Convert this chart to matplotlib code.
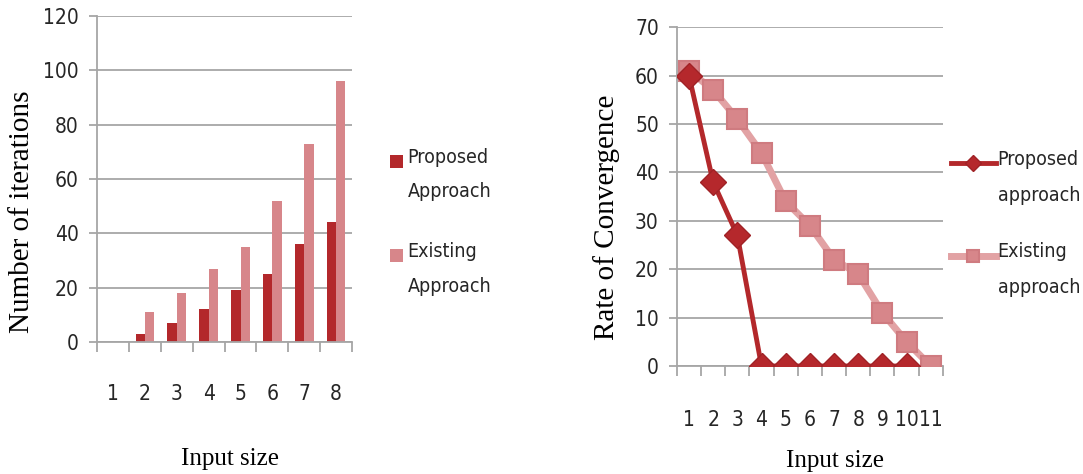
import numpy as np
import matplotlib.pyplot as plt
from matplotlib.ticker import FixedLocator

# data
bar_sizes = ["1", "2", "3", "4", "5", "6", "7", "8"]
iter_proposed = [0, 3, 7, 12, 19, 25, 36, 44]
iter_existing = [0, 11, 18, 27, 35, 52, 73, 96]

line_sizes = ["1", "2", "3", "4", "5", "6", "7", "8", "9", "10", "11"]
conv_proposed = [60, 38, 27, 0, 0, 0, 0, 0, 0, 0]
conv_existing = [61, 57, 51, 44, 34, 29, 22, 19, 11, 5, 0]

dark_red = "#b3282b"
pink = "#d7868a"
grid_c = "#a6a6a6"
sans = ["DejaVu Sans"]
serif = ["Liberation Serif", "DejaVu Serif"]
tick_font = {"family": sans, "size": 15, "stretch": "condensed"}
leg_font = {"family": sans, "size": 14, "stretch": "condensed"}

fig = plt.figure(figsize=(10.83, 4.74), dpi=100)


def style_axes(ax, n, ymax, ystep):
    ax.set_xlim(-0.5, n - 0.5)
    ax.set_ylim(0, ymax)
    ax.set_yticks(np.arange(0, ymax + 1, ystep))
    ax.yaxis.grid(True, color=grid_c, lw=1.3)
    ax.set_axisbelow(True)
    for s in ["top", "right"]:
        ax.spines[s].set_visible(False)
    for s in ["left", "bottom"]:
        ax.spines[s].set_color(grid_c)
        ax.spines[s].set_linewidth(1.3)
    # category boundaries get the tick marks, labels sit in the middle
    ax.xaxis.set_minor_locator(FixedLocator(np.arange(-0.5, n, 1.0)))
    ax.tick_params(axis="x", which="minor", length=7, width=1.3, color=grid_c)
    ax.tick_params(axis="x", which="major", length=0, pad=30)
    ax.tick_params(axis="y", length=6, width=1.3, color=grid_c, pad=7)
    for lab in ax.get_xticklabels() + ax.get_yticklabels():
        lab.set_fontproperties(tick_font)
        lab.set_color("#262626")


def lift_handles(leg):
    # put each legend handle level with the first line of its label
    fig.canvas.draw()
    r = fig.canvas.get_renderer()
    for h, t in zip(leg.legend_handles, leg.get_texts()):
        tb = t.get_window_extent(r)
        hb = h.get_window_extent(r)
        first_line = tb.y1 - tb.height / 4
        d = (first_line - (hb.y0 + hb.y1) / 2) * 72 / fig.dpi
        if hasattr(h, "set_ydata"):
            h.set_ydata(np.asarray(h.get_ydata()) + d)
        else:
            h.set_y(h.get_y() + d)


# left: bars
ax1 = fig.add_axes([0.0896, 0.2785, 0.2355, 0.6877])
x = np.arange(len(bar_sizes))
w = 0.29
ax1.bar(x - w / 2, iter_proposed, w, color=dark_red, label="Proposed\nApproach")
ax1.bar(x + w / 2, iter_existing, w, color=pink, label="Existing\nApproach")
ax1.set_xticks(x, bar_sizes)
style_axes(ax1, len(bar_sizes), 120, 20)
ax1.set_ylabel("Number of iterations", fontfamily=serif, fontsize=21, labelpad=6)
ax1.yaxis.label.set_y(0.4)
ax1.set_xlabel("Input size", fontfamily=serif, fontsize=18, labelpad=32)
ax1.xaxis.label.set_x(0.52)
leg1 = ax1.legend(loc="upper left", bbox_to_anchor=(1.08, 0.65), frameon=False,
                  prop=leg_font, handlelength=0.65, handleheight=0.65,
                  handletextpad=0.25, labelspacing=2.1)
for t in leg1.get_texts():
    t.set_linespacing(2.05)
    t.set_color("#262626")

# right: lines
ax2 = fig.add_axes([0.625, 0.2278, 0.2456, 0.715])
x2 = np.arange(len(line_sizes))
ax2.plot(x2, conv_existing, color="#e2a2a4", lw=5, marker="s", ms=14,
         mfc=pink, mec="#cf7b80", mew=1.5, label="Existing\napproach", zorder=3)
ax2.plot(x2[:len(conv_proposed)], conv_proposed, color=dark_red, lw=3.5,
         marker="D", ms=13, mfc="#b5282c", mec="#a02226", label="Proposed\napproach",
         zorder=4)
ax2.set_xticks(x2, line_sizes)
style_axes(ax2, len(line_sizes), 70, 10)
ax2.tick_params(axis="x", which="major", pad=32)
ax2.set_ylabel("Rate of Convergence", fontfamily=serif, fontsize=21, labelpad=11)
ax2.yaxis.label.set_y(0.44)
ax2.set_xlabel("Input size", fontfamily=serif, fontsize=18, labelpad=14)
ax2.xaxis.label.set_x(0.594)
h, l = ax2.get_legend_handles_labels()
leg2 = ax2.legend(h[::-1], l[::-1], loc="upper left", bbox_to_anchor=(0.965, 0.69),
                  frameon=False, prop=leg_font, handlelength=2.3, markerscale=0.6,
                  handletextpad=0.1, labelspacing=1.9)
for t in leg2.get_texts():
    t.set_linespacing(2.15)
    t.set_color("#262626")

lift_handles(leg1)
lift_handles(leg2)

fig.savefig("out.png", dpi=100)
